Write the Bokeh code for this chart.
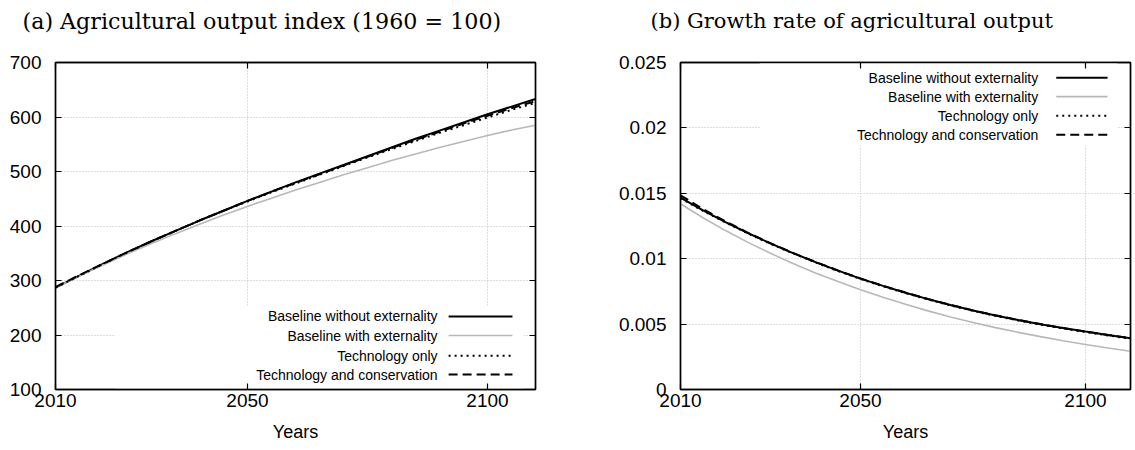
from bokeh.plotting import figure
from bokeh.models import FixedTicker, LinearAxis, Range1d, Label, Arrow, BoxAnnotation
from bokeh.layouts import row, column
from bokeh.embed import file_html
from bokeh.resources import INLINE

# ---------------- data ----------------
years = [2010, 2015, 2020, 2025, 2030, 2035, 2040, 2045, 2050, 2055, 2060,
         2065, 2070, 2075, 2080, 2085, 2090, 2095, 2100, 2105, 2110]

# (a) Agricultural output index (1960 = 100)
out_base_noext = [287, 309, 331, 352, 372, 391, 410, 428, 446, 463, 480,
                  496, 512, 528, 544, 560, 575, 590, 605, 619, 633]
out_base_ext = [287, 308, 329, 349, 368, 386, 403, 420, 436, 451, 466,
                480, 494, 507, 520, 532, 544, 555, 566, 576, 585]
out_tech = [287, 309, 331, 352, 372, 391, 410, 428, 445, 462, 478,
            494, 510, 526, 541, 556, 571, 585, 599, 613, 626]
out_techcons = [288, 310, 331, 352, 372, 391, 410, 428, 446, 463, 479,
                495, 511, 527, 543, 558, 573, 588, 602, 616, 629]

# (b) Growth rate of agricultural output
g_base_noext = [0.01466, 0.01370, 0.01280, 0.01196, 0.01117, 0.01043, 0.00974,
                0.00909, 0.00848, 0.00792, 0.00740, 0.00691, 0.00646, 0.00604,
                0.00566, 0.00531, 0.00499, 0.00470, 0.00443, 0.00417, 0.00392]
g_base_ext = [0.01420, 0.01313, 0.01215, 0.01125, 0.01041, 0.00963, 0.00891,
              0.00825, 0.00763, 0.00705, 0.00651, 0.00601, 0.00555, 0.00512,
              0.00473, 0.00437, 0.00404, 0.00373, 0.00344, 0.00317, 0.00292]
g_tech = [0.01462, 0.01366, 0.01277, 0.01193, 0.01114, 0.01040, 0.00971,
          0.00906, 0.00845, 0.00789, 0.00737, 0.00688, 0.00643, 0.00601,
          0.00563, 0.00528, 0.00496, 0.00466, 0.00439, 0.00413, 0.00388]
g_techcons = [0.01485, 0.01380, 0.01285, 0.01198, 0.01118, 0.01044, 0.00975,
              0.00910, 0.00849, 0.00793, 0.00741, 0.00692, 0.00647, 0.00605,
              0.00567, 0.00532, 0.00500, 0.00470, 0.00443, 0.00417, 0.00392]

series_names = ["Baseline without externality", "Baseline with externality",
                "Technology only", "Technology and conservation"]

x_ticks = [2010, 2050, 2100]
y_ticks_a = [100, 200, 300, 400, 500, 600, 700]
y_ticks_b = [0, 0.005, 0.01, 0.015, 0.02, 0.025]
y_labels_b = ["0", "0.005", "0.01", "0.015", "0.02", "0.025"]

titles = ["(a) Agricultural output index (1960 = 100)",
          "(b) Growth rate of agricultural output"]

# ---------------- styles ----------------
styles = [
    dict(line_color="black", line_width=2.0, line_dash="solid"),
    dict(line_color="#b8b8b8", line_width=1.6, line_dash="solid"),
    dict(line_color="black", line_width=2.0, line_dash="2 4"),
    dict(line_color="black", line_width=2.0, line_dash="9 5"),
]
SANS = "Liberation Sans"
SERIF = "DejaVu Serif"
CAP_H = 40  # height of the caption strip above each panel


def caption(text, w, x_left, size):
    t = figure(output_backend="svg", toolbar_location=None, width=w, height=CAP_H,
               x_range=Range1d(0, w), y_range=Range1d(0, CAP_H), min_border=0)
    t.axis.visible = False
    t.grid.visible = False
    t.outline_line_color = None
    t.add_layout(Label(x=x_left, y=CAP_H - 20, text=text, text_align="left",
                       text_baseline="middle", text_font=SERIF,
                       text_font_size=size, text_color="black"))
    return t


def style_axis(ax, ticker, overrides=None, show_labels=True):
    ax.ticker = FixedTicker(ticks=ticker)
    ax.minor_tick_line_color = None
    ax.major_tick_in = 6
    ax.major_tick_out = 0
    ax.major_tick_line_color = "black"
    ax.major_tick_line_width = 1.2
    ax.axis_line_color = "black"
    ax.axis_line_width = 1.4
    if overrides:
        ax.major_label_overrides = overrides
    if show_labels:
        ax.major_label_text_font = SANS
        ax.major_label_text_font_size = "19px"
        ax.major_label_text_color = "black"
    else:
        ax.major_label_text_font_size = "1px"
        ax.major_label_text_color = None
        ax.major_label_standoff = 0


def make_fig(ys, yr, yticks, ylabels, fw, bl, br,
             legend_xtext, legend_xs, legend_ys, box):
    p = figure(output_backend="svg", toolbar_location=None,
               frame_width=fw, frame_height=327,
               x_range=Range1d(2010, 2110), y_range=Range1d(*yr),
               min_border_left=bl, min_border_right=br,
               min_border_top=62 - CAP_H, min_border_bottom=54)
    p.background_fill_color = "white"
    p.border_fill_color = "white"
    p.outline_line_color = "black"
    p.outline_line_width = 1.4

    overrides = dict(zip(yticks, ylabels)) if ylabels else None
    style_axis(p.xaxis[0], x_ticks)
    style_axis(p.yaxis[0], yticks, overrides)
    p.xaxis[0].major_label_standoff = 4
    p.yaxis[0].major_label_standoff = 14
    p.xaxis[0].axis_label = "Years"
    p.xaxis[0].axis_label_text_font = SANS
    p.xaxis[0].axis_label_text_font_size = "18px"
    p.xaxis[0].axis_label_text_font_style = "normal"
    p.xaxis[0].axis_label_text_color = "black"
    p.xaxis[0].axis_label_standoff = 12

    ax_r = LinearAxis()
    style_axis(ax_r, yticks, show_labels=False)
    p.add_layout(ax_r, "right")
    ax_t = LinearAxis()
    style_axis(ax_t, x_ticks, show_labels=False)
    p.add_layout(ax_t, "above")

    for g in (p.xgrid[0], p.ygrid[0]):
        g.grid_line_color = "#bcbcbc"
        g.grid_line_dash = "1 2"
        g.grid_line_width = 1

    # opaque key area (hides grid behind the key)
    p.add_layout(BoxAnnotation(left=box[0], right=box[1], bottom=box[2], top=box[3],
                               fill_color="white", fill_alpha=1.0, line_color=None,
                               level="underlay"))

    for vals, st in zip(ys, styles):
        p.line(years, vals, **st)

    for name, st, yy in zip(series_names, styles, legend_ys):
        p.add_layout(Label(x=legend_xtext, y=yy, text=name, text_align="right",
                           text_baseline="middle", text_font=SANS,
                           text_font_size="14px", text_color="black"))
        p.add_layout(Arrow(end=None, x_start=legend_xs[0], x_end=legend_xs[1],
                           y_start=yy, y_end=yy, **st))
    return p


pa = make_fig([out_base_noext, out_base_ext, out_tech, out_techcons],
              (100, 700), y_ticks_a, None, 480, 55, 30,
              2089.6, (2091.9, 2105.2), [234, 199, 162, 127.5],
              (2022.5, 2107.5, 102, 254))
pb = make_fig([g_base_noext, g_base_ext, g_tech, g_techcons],
              (0, 0.025), y_ticks_b, y_labels_b, 450, 115, 2,
              2089.5, (2093.5, 2104.9), [0.02384, 0.02239, 0.02092, 0.01947],
              (2027.6, 2107.1, 0.01863, 0.025))

ca = caption(titles[0], 565, 22, "22.2px")
cb = caption(titles[1], 565, 85, "21px")

layout = column(row(ca, cb, spacing=0), row(pa, pb, spacing=0), spacing=0)
open("out.html", "w").write(file_html(layout, INLINE))
